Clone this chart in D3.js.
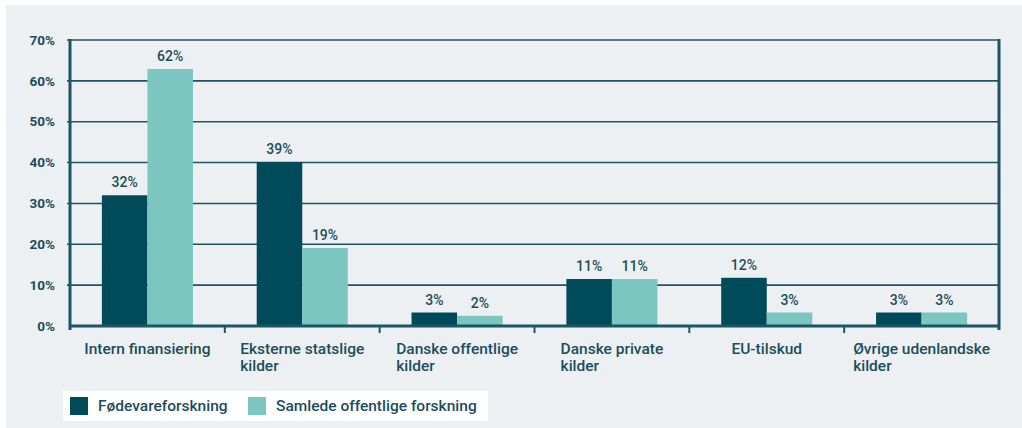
<!DOCTYPE html>
<html>
<head>
<meta charset="utf-8">
<script src="https://cdn.jsdelivr.net/npm/d3@7"></script>
<style>
  body { margin: 0; background: #fff; }
  text { font-family: Roboto, "Noto Sans", sans-serif; fill: #1b4d5a; }
</style>
</head>
<body>
<div id="chart"></div>
<script>
const SIZE = { width: 1022, height: 428 }
const MARGIN = { top: 40, right: 23, bottom: 102, left: 70 }

const categories = [
  ['Intern finansiering'],
  ['Eksterne statslige', 'kilder'],
  ['Danske offentlige', 'kilder'],
  ['Danske private', 'kilder'],
  ['EU-tilskud'],
  ['Øvrige udenlandske', 'kilder'],
]
const seriesNames = ['Fødevareforskning', 'Samlede offentlige forskning']
const foodValues = [32, 40.1, 3.3, 11.5, 11.8, 3.3]
const foodLabels = ['32%', '39%', '3%', '11%', '12%', '3%']
const publicValues = [62.9, 19.1, 2.5, 11.5, 3.3, 3.3]
const publicLabels = ['62%', '19%', '2%', '11%', '3%', '3%']
const yTicks = [0, 10, 20, 30, 40, 50, 60, 70]
const colors = ['#004b5a', '#7cc6c2']
const axisColor = '#1d5565'

function defineSVG (params) {
  const { selector, size } = params
  const svg = d3.select(selector)
    .append('svg')
    .attr('width', size.width)
    .attr('height', size.height)
  svg.append('rect')
    .attr('x', 6)
    .attr('y', 5)
    .attr('width', size.width - 6)
    .attr('height', size.height - 5)
    .attr('fill', '#edf0f3')
  return svg
}

const svg = defineSVG({ selector: '#chart', size: SIZE })
const width = SIZE.width - MARGIN.left - MARGIN.right
const height = SIZE.height - MARGIN.top - MARGIN.bottom
const g = svg.append('g')
  .attr('transform', `translate(${[MARGIN.left, MARGIN.top]})`)

const idx = d3.range(categories.length)
const x0 = d3.scaleBand().domain(idx).range([0, width])
const x1 = d3.scaleBand().domain([0, 1]).range([0, x0.bandwidth()]).paddingOuter(0.7)
const y = d3.scaleLinear().domain([0, 70]).range([height, 0])

// gridlines
g.selectAll('.grid')
  .data(yTicks.filter(d => d > 0))
  .enter()
  .append('line')
  .attr('x1', -3)
  .attr('x2', width)
  .attr('y1', d => y(d))
  .attr('y2', d => y(d))
  .attr('stroke', axisColor)
  .attr('stroke-width', 1.6)

// y tick labels
g.selectAll('.ylab')
  .data(yTicks)
  .enter()
  .append('text')
  .attr('x', -15)
  .attr('y', d => y(d))
  .attr('dy', '0.35em')
  .attr('text-anchor', 'end')
  .style('font-size', '13.5px')
  .style('font-weight', 700)
  .text(d => `${d}%`)

// bars
const series = [
  { values: foodValues, labels: foodLabels },
  { values: publicValues, labels: publicLabels },
]
series.forEach((s, si) => {
  g.selectAll(`.bar${si}`)
    .data(idx)
    .enter()
    .append('rect')
    .attr('x', i => x0(i) + x1(si))
    .attr('y', i => y(s.values[i]))
    .attr('width', x1.bandwidth())
    .attr('height', i => height - y(s.values[i]))
    .attr('fill', colors[si])

  g.selectAll(`.val${si}`)
    .data(idx)
    .enter()
    .append('text')
    .attr('x', i => x0(i) + x1(si) + x1.bandwidth() / 2)
    .attr('y', i => y(s.values[i]) - 8)
    .attr('text-anchor', 'middle')
    .style('font-size', '14px')
    .style('font-weight', 500)
    .text(i => s.labels[i])
})

// axes frame
g.append('line')
  .attr('x1', 0).attr('x2', 0)
  .attr('y1', -1).attr('y2', height + 4)
  .attr('stroke', axisColor).attr('stroke-width', 3)
g.append('line')
  .attr('x1', width).attr('x2', width)
  .attr('y1', -1).attr('y2', height + 4)
  .attr('stroke', axisColor).attr('stroke-width', 3)
g.append('line')
  .attr('x1', 0).attr('x2', width)
  .attr('y1', height).attr('y2', height)
  .attr('stroke', axisColor).attr('stroke-width', 3)
g.selectAll('.xtick')
  .data(idx.slice(1))
  .enter()
  .append('line')
  .attr('x1', i => x0(i)).attr('x2', i => x0(i))
  .attr('y1', height).attr('y2', height + 7)
  .attr('stroke', axisColor).attr('stroke-width', 2)

// category labels: centred block, left-aligned lines
const catLabels = g.selectAll('.cat')
  .data(idx)
  .enter()
  .append('text')
  .style('font-size', '15.5px')
  .style('font-weight', 500)
catLabels.selectAll('tspan')
  .data(i => categories[i])
  .enter()
  .append('tspan')
  .attr('dy', (d, j) => j === 0 ? 0 : 17)
  .text(d => d)
catLabels.each(function (i) {
  const text = d3.select(this)
  let maxW = 0
  text.selectAll('tspan').each(function () {
    maxW = Math.max(maxW, this.getComputedTextLength())
  })
  const left = x0(i) + x0.bandwidth() / 2 - maxW / 2
  text.attr('y', height + 28)
  text.selectAll('tspan').attr('x', left)
})

// legend
const legend = svg.append('g')
  .attr('transform', 'translate(63,391)')
legend.append('rect')
  .attr('width', 425)
  .attr('height', 30)
  .attr('fill', '#fff')
const legendX = [7, 185]
seriesNames.forEach((name, i) => {
  legend.append('rect')
    .attr('x', legendX[i])
    .attr('y', 6)
    .attr('width', 18)
    .attr('height', 18)
    .attr('fill', colors[i])
  legend.append('text')
    .attr('x', legendX[i] + 28)
    .attr('y', 15)
    .attr('dy', '0.35em')
    .style('font-size', '15.5px')
    .style('font-weight', 500)
    .text(name)
})
</script>
</body>
</html>
